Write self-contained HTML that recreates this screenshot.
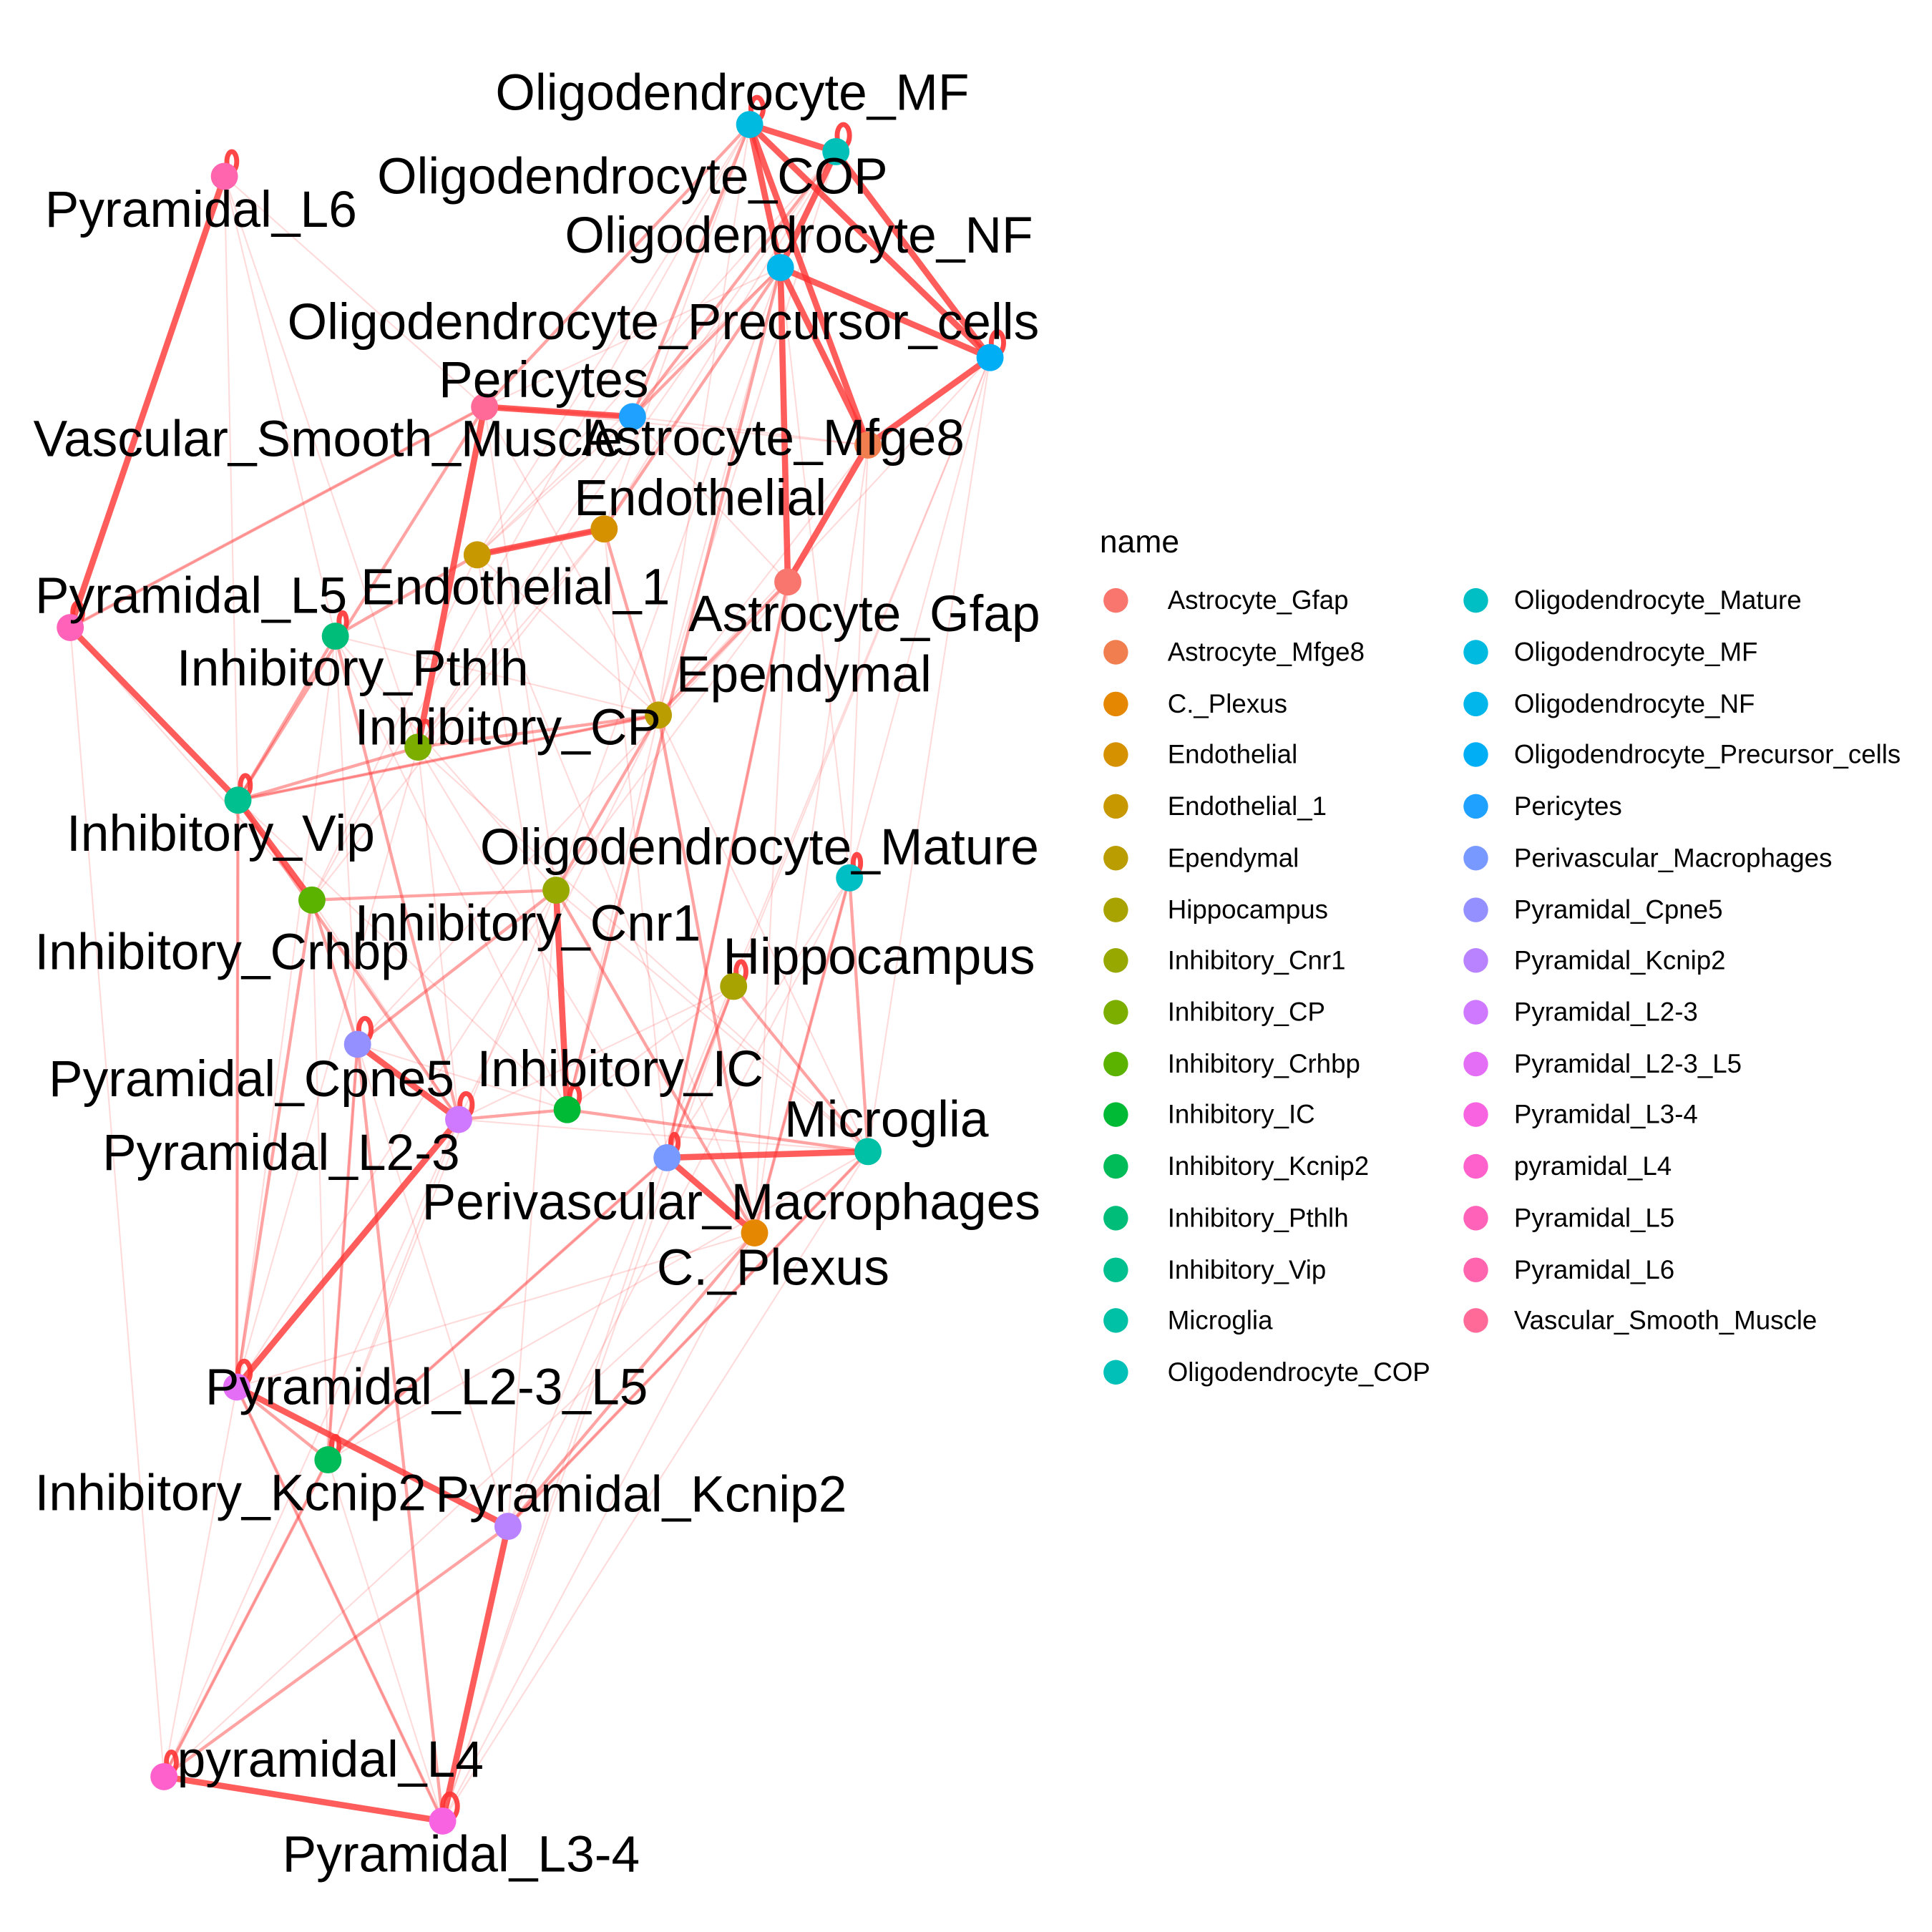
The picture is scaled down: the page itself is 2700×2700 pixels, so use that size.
<!DOCTYPE html>
<html><head><meta charset="utf-8"><style>html,body{margin:0;padding:0;background:#fff}svg{display:block}</style></head><body>
<svg width="2700" height="2700" viewBox="0 0 1567 1567" xmlns="http://www.w3.org/2000/svg" font-family="Liberation Sans, Arial, sans-serif">
<rect width="1567" height="1567" fill="#fff"/>
<g stroke="#FF3333" stroke-linecap="round" fill="none">
<g stroke-opacity="0.18" stroke-width="1.2">
<line x1="182" y1="143" x2="393" y2="330"/><line x1="182" y1="143" x2="272" y2="516"/><line x1="182" y1="143" x2="339" y2="606"/><line x1="182" y1="143" x2="193" y2="649"/>
<line x1="57" y1="509" x2="393" y2="330"/><line x1="57" y1="509" x2="133" y2="1441"/><line x1="57" y1="509" x2="253" y2="730"/>
<line x1="393" y1="330" x2="633" y2="217"/><line x1="393" y1="330" x2="704" y2="361"/><line x1="393" y1="330" x2="534" y2="580"/><line x1="393" y1="330" x2="451" y2="722"/>
<line x1="513" y1="338" x2="639" y2="472"/><line x1="513" y1="338" x2="387" y2="450"/><line x1="513" y1="338" x2="704" y2="361"/><line x1="513" y1="338" x2="339" y2="606"/>
<line x1="803" y1="290" x2="689" y2="712"/><line x1="803" y1="290" x2="595" y2="800"/><line x1="803" y1="290" x2="534" y2="580"/><line x1="803" y1="290" x2="704" y2="934"/><line x1="803" y1="290" x2="412" y2="1238"/>
<line x1="608" y1="101" x2="387" y2="450"/><line x1="608" y1="101" x2="534" y2="580"/><line x1="608" y1="101" x2="490" y2="429"/><line x1="608" y1="101" x2="253" y2="730"/>
<line x1="678" y1="123" x2="490" y2="429"/><line x1="678" y1="123" x2="534" y2="580"/><line x1="678" y1="123" x2="387" y2="450"/><line x1="678" y1="123" x2="339" y2="606"/>
<line x1="633" y1="217" x2="534" y2="580"/><line x1="633" y1="217" x2="451" y2="722"/><line x1="633" y1="217" x2="689" y2="712"/><line x1="633" y1="217" x2="387" y2="450"/>
<line x1="704" y1="361" x2="534" y2="580"/><line x1="704" y1="361" x2="689" y2="712"/><line x1="704" y1="361" x2="612" y2="1000"/>
<line x1="639" y1="472" x2="541" y2="939"/><line x1="639" y1="472" x2="451" y2="722"/><line x1="639" y1="472" x2="612" y2="1000"/><line x1="639" y1="472" x2="290" y2="847"/>
<line x1="534" y1="580" x2="272" y2="516"/><line x1="534" y1="580" x2="193" y2="649"/><line x1="534" y1="580" x2="704" y2="934"/><line x1="534" y1="580" x2="460" y2="900"/><line x1="534" y1="580" x2="372" y2="908"/>
<line x1="387" y1="450" x2="612" y2="1000"/><line x1="387" y1="450" x2="460" y2="900"/><line x1="387" y1="450" x2="253" y2="730"/><line x1="387" y1="450" x2="534" y2="580"/>
<line x1="490" y1="429" x2="339" y2="606"/><line x1="490" y1="429" x2="541" y2="939"/><line x1="490" y1="429" x2="253" y2="730"/>
<line x1="272" y1="516" x2="460" y2="900"/><line x1="272" y1="516" x2="192" y2="1125"/><line x1="272" y1="516" x2="290" y2="847"/><line x1="272" y1="516" x2="451" y2="722"/>
<line x1="339" y1="606" x2="192" y2="1125"/><line x1="339" y1="606" x2="372" y2="908"/><line x1="339" y1="606" x2="704" y2="934"/><line x1="339" y1="606" x2="541" y2="939"/>
<line x1="193" y1="649" x2="192" y2="1125"/><line x1="193" y1="649" x2="460" y2="900"/><line x1="193" y1="649" x2="534" y2="580"/>
<line x1="451" y1="722" x2="192" y2="1125"/><line x1="451" y1="722" x2="704" y2="934"/><line x1="451" y1="722" x2="412" y2="1238"/><line x1="451" y1="722" x2="266" y2="1184"/>
<line x1="595" y1="800" x2="460" y2="900"/><line x1="595" y1="800" x2="541" y2="939"/><line x1="595" y1="800" x2="372" y2="908"/><line x1="595" y1="800" x2="359" y2="1477"/>
<line x1="689" y1="712" x2="541" y2="939"/><line x1="689" y1="712" x2="612" y2="1000"/><line x1="689" y1="712" x2="412" y2="1238"/>
<line x1="704" y1="934" x2="412" y2="1238"/><line x1="704" y1="934" x2="266" y2="1184"/><line x1="704" y1="934" x2="359" y2="1477"/>
<line x1="612" y1="1000" x2="192" y2="1125"/><line x1="612" y1="1000" x2="359" y2="1477"/><line x1="612" y1="1000" x2="133" y2="1441"/>
<line x1="541" y1="939" x2="266" y2="1184"/><line x1="541" y1="939" x2="359" y2="1477"/>
<line x1="290" y1="847" x2="266" y2="1184"/><line x1="290" y1="847" x2="460" y2="900"/><line x1="290" y1="847" x2="412" y2="1238"/>
<line x1="372" y1="908" x2="266" y2="1184"/><line x1="372" y1="908" x2="704" y2="934"/><line x1="372" y1="908" x2="133" y2="1441"/>
<line x1="192" y1="1125" x2="133" y2="1441"/><line x1="192" y1="1125" x2="359" y2="1477"/><line x1="266" y1="1184" x2="133" y2="1441"/><line x1="266" y1="1184" x2="359" y2="1477"/>
<line x1="253" y1="730" x2="372" y2="908"/><line x1="253" y1="730" x2="266" y2="1184"/>
</g>
<g stroke-opacity="0.45" stroke-width="2.5">
<line x1="393" y1="330" x2="513" y2="338"/><line x1="393" y1="330" x2="193" y2="649"/><line x1="393" y1="330" x2="57" y2="509"/>
<line x1="608" y1="101" x2="513" y2="338"/><line x1="608" y1="101" x2="393" y2="330"/><line x1="633" y1="217" x2="513" y2="338"/><line x1="678" y1="123" x2="513" y2="338"/>
<line x1="387" y1="450" x2="490" y2="429"/><line x1="387" y1="450" x2="272" y2="516"/><line x1="490" y1="429" x2="534" y2="580"/><line x1="490" y1="429" x2="633" y2="217"/>
<line x1="534" y1="580" x2="339" y2="606"/><line x1="534" y1="580" x2="193" y2="649"/><line x1="534" y1="580" x2="451" y2="722"/><line x1="534" y1="580" x2="612" y2="1000"/>
<line x1="639" y1="472" x2="534" y2="580"/><line x1="639" y1="472" x2="541" y2="939"/>
<line x1="193" y1="649" x2="339" y2="606"/><line x1="272" y1="516" x2="193" y2="649"/><line x1="272" y1="516" x2="372" y2="908"/>
<line x1="253" y1="730" x2="451" y2="722"/><line x1="253" y1="730" x2="290" y2="847"/><line x1="253" y1="730" x2="192" y2="1125"/>
<line x1="193" y1="649" x2="192" y2="1125"/><line x1="193" y1="649" x2="372" y2="908"/>
<line x1="451" y1="722" x2="290" y2="847"/><line x1="451" y1="722" x2="612" y2="1000"/><line x1="372" y1="908" x2="460" y2="900"/>
<line x1="460" y1="900" x2="704" y2="934"/><line x1="689" y1="712" x2="704" y2="934"/><line x1="689" y1="712" x2="612" y2="1000"/>
<line x1="595" y1="800" x2="704" y2="934"/><line x1="595" y1="800" x2="541" y2="939"/>
<line x1="290" y1="847" x2="266" y2="1184"/><line x1="290" y1="847" x2="359" y2="1477"/><line x1="541" y1="939" x2="266" y2="1184"/>
<line x1="704" y1="934" x2="412" y2="1238"/><line x1="612" y1="1000" x2="412" y2="1238"/>
<line x1="192" y1="1125" x2="266" y2="1184"/><line x1="192" y1="1125" x2="359" y2="1477"/><line x1="266" y1="1184" x2="133" y2="1441"/>
<line x1="412" y1="1238" x2="133" y2="1441"/><line x1="633" y1="217" x2="460" y2="900"/>
</g>
<g stroke-opacity="0.8" stroke-width="5">
<line x1="608" y1="101" x2="678" y2="123"/><line x1="608" y1="101" x2="633" y2="217"/><line x1="608" y1="101" x2="803" y2="290"/><line x1="678" y1="123" x2="803" y2="290"/>
<line x1="633" y1="217" x2="803" y2="290"/><line x1="633" y1="217" x2="704" y2="361"/><line x1="608" y1="101" x2="704" y2="361"/><line x1="633" y1="217" x2="639" y2="472"/>
<line x1="704" y1="361" x2="639" y2="472"/><line x1="704" y1="361" x2="803" y2="290"/><line x1="678" y1="123" x2="633" y2="217"/>
<line x1="182" y1="143" x2="57" y2="509"/><line x1="393" y1="330" x2="339" y2="606"/><line x1="57" y1="509" x2="193" y2="649"/>
<line x1="193" y1="649" x2="253" y2="730"/><line x1="451" y1="722" x2="460" y2="900"/><line x1="290" y1="847" x2="372" y2="908"/>
<line x1="192" y1="1125" x2="372" y2="908"/><line x1="192" y1="1125" x2="412" y2="1238"/><line x1="412" y1="1238" x2="359" y2="1477"/>
<line x1="133" y1="1441" x2="359" y2="1477"/><line x1="541" y1="939" x2="704" y2="934"/><line x1="541" y1="939" x2="612" y2="1000"/>
<line x1="490" y1="429" x2="387" y2="450"/><line x1="513" y1="338" x2="393" y2="330"/>
</g>
<g stroke-width="4" stroke-opacity="0.9">
<ellipse cx="614" cy="88" rx="5" ry="9"/><ellipse cx="684" cy="110" rx="5" ry="9"/><ellipse cx="809" cy="278" rx="5" ry="9"/>
<ellipse cx="188" cy="131" rx="4" ry="8"/><ellipse cx="63" cy="497" rx="4" ry="8"/><ellipse cx="278" cy="504" rx="3" ry="7"/>
<ellipse cx="345" cy="594" rx="5" ry="9"/><ellipse cx="199" cy="637" rx="4" ry="8"/><ellipse cx="296" cy="835" rx="5" ry="9"/>
<ellipse cx="378" cy="896" rx="5" ry="9"/><ellipse cx="466" cy="889" rx="4" ry="8"/><ellipse cx="198" cy="1113" rx="5" ry="9"/>
<ellipse cx="365" cy="1465" rx="6" ry="10"/><ellipse cx="139" cy="1429" rx="4" ry="8"/><ellipse cx="601" cy="788" rx="4" ry="8"/>
<ellipse cx="695" cy="700" rx="3" ry="7"/><ellipse cx="547" cy="927" rx="3" ry="7"/><ellipse cx="272" cy="1172" rx="3" ry="7"/>
</g>
</g>
<g stroke="none">
<circle cx="608" cy="101" r="11" fill="#00BAE0"/><circle cx="678" cy="123" r="11" fill="#00C0B8"/><circle cx="633" cy="217" r="11" fill="#00B6EB"/>
<circle cx="803" cy="290" r="11" fill="#00AEF6"/><circle cx="513" cy="338" r="11" fill="#1FA2FF"/><circle cx="393" cy="330" r="11" fill="#FF6A98"/>
<circle cx="182" cy="143" r="11" fill="#FF64AE"/><circle cx="704" cy="361" r="11" fill="#F07E4F"/><circle cx="490" cy="429" r="11" fill="#D59100"/>
<circle cx="387" cy="450" r="11" fill="#C79800"/><circle cx="639" cy="472" r="11" fill="#F8766D"/><circle cx="57" cy="509" r="11" fill="#FF62B9"/>
<circle cx="272" cy="516" r="11" fill="#00BE7A"/><circle cx="534" cy="580" r="11" fill="#BA9D00"/><circle cx="339" cy="606" r="11" fill="#7CAE00"/>
<circle cx="193" cy="649" r="11" fill="#00C08F"/><circle cx="689" cy="712" r="11" fill="#00BFC4"/><circle cx="253" cy="730" r="11" fill="#5BB300"/>
<circle cx="451" cy="722" r="11" fill="#97A900"/><circle cx="595" cy="800" r="11" fill="#A8A300"/><circle cx="290" cy="847" r="11" fill="#9590FF"/>
<circle cx="372" cy="908" r="11" fill="#CE79FF"/><circle cx="460" cy="900" r="11" fill="#00B934"/><circle cx="541" cy="939" r="11" fill="#7899FF"/>
<circle cx="704" cy="934" r="11" fill="#00C0A6"/><circle cx="612" cy="1000" r="11" fill="#E58700"/><circle cx="192" cy="1125" r="11" fill="#E46EF6"/>
<circle cx="266" cy="1184" r="11" fill="#00BC58"/><circle cx="412" cy="1238" r="11" fill="#B983FF"/><circle cx="133" cy="1441" r="11" fill="#FF61CC"/>
<circle cx="359" cy="1477" r="11" fill="#F763E0"/>
</g>
<g font-size="41.4" fill="#000" text-anchor="middle">
<text x="594" y="89">Oligodendrocyte_MF</text>
<text x="513" y="157">Oligodendrocyte_COP</text>
<text x="648" y="205">Oligodendrocyte_NF</text>
<text x="538" y="275">Oligodendrocyte_Precursor_cells</text>
<text x="163" y="184">Pyramidal_L6</text>
<text x="441" y="322">Pericytes</text>
<text x="266" y="370">Vascular_Smooth_Muscle</text>
<text x="627" y="369">Astrocyte_Mfge8</text>
<text x="568" y="418">Endothelial</text>
<text x="418" y="490">Endothelial_1</text>
<text x="701" y="512">Astrocyte_Gfap</text>
<text x="155" y="497">Pyramidal_L5</text>
<text x="286" y="556">Inhibitory_Pthlh</text>
<text x="652" y="561">Ependymal</text>
<text x="412" y="604">Inhibitory_CP</text>
<text x="179" y="690">Inhibitory_Vip</text>
<text x="616" y="701">Oligodendrocyte_Mature</text>
<text x="180" y="786">Inhibitory_Crhbp</text>
<text x="428" y="763">Inhibitory_Cnr1</text>
<text x="713" y="790">Hippocampus</text>
<text x="204" y="889">Pyramidal_Cpne5</text>
<text x="228" y="949">Pyramidal_L2-3</text>
<text x="503" y="881">Inhibitory_IC</text>
<text x="719" y="922">Microglia</text>
<text x="593" y="989">Perivascular_Macrophages</text>
<text x="627" y="1042">C._Plexus</text>
<text x="346" y="1139">Pyramidal_L2-3_L5</text>
<text x="187" y="1225">Inhibitory_Kcnip2</text>
<text x="520" y="1226">Pyramidal_Kcnip2</text>
<text x="268" y="1441">pyramidal_L4</text>
<text x="374" y="1518">Pyramidal_L3-4</text>
</g>
<text x="892" y="448" font-size="25.8">name</text>
<g font-size="21.3">
<g><circle cx="905" cy="487" r="10" fill="#F8766D"/><text x="947" y="494">Astrocyte_Gfap</text>
<circle cx="905" cy="529" r="10" fill="#F07E4F"/><text x="947" y="536">Astrocyte_Mfge8</text>
<circle cx="905" cy="571" r="10" fill="#E58700"/><text x="947" y="578">C._Plexus</text>
<circle cx="905" cy="612" r="10" fill="#D59100"/><text x="947" y="619">Endothelial</text>
<circle cx="905" cy="654" r="10" fill="#C79800"/><text x="947" y="661">Endothelial_1</text>
<circle cx="905" cy="696" r="10" fill="#BA9D00"/><text x="947" y="703">Ependymal</text>
<circle cx="905" cy="738" r="10" fill="#A8A300"/><text x="947" y="745">Hippocampus</text>
<circle cx="905" cy="779" r="10" fill="#97A900"/><text x="947" y="786">Inhibitory_Cnr1</text>
<circle cx="905" cy="821" r="10" fill="#7CAE00"/><text x="947" y="828">Inhibitory_CP</text>
<circle cx="905" cy="863" r="10" fill="#5BB300"/><text x="947" y="870">Inhibitory_Crhbp</text>
<circle cx="905" cy="904" r="10" fill="#00B934"/><text x="947" y="911">Inhibitory_IC</text>
<circle cx="905" cy="946" r="10" fill="#00BC58"/><text x="947" y="953">Inhibitory_Kcnip2</text>
<circle cx="905" cy="988" r="10" fill="#00BE7A"/><text x="947" y="995">Inhibitory_Pthlh</text>
<circle cx="905" cy="1030" r="10" fill="#00C08F"/><text x="947" y="1037">Inhibitory_Vip</text>
<circle cx="905" cy="1071" r="10" fill="#00C0A6"/><text x="947" y="1078">Microglia</text>
<circle cx="905" cy="1113" r="10" fill="#00C0B8"/><text x="947" y="1120">Oligodendrocyte_COP</text></g>
<g><circle cx="1197" cy="487" r="10" fill="#00BFC4"/><text x="1228" y="494">Oligodendrocyte_Mature</text>
<circle cx="1197" cy="529" r="10" fill="#00BAE0"/><text x="1228" y="536">Oligodendrocyte_MF</text>
<circle cx="1197" cy="571" r="10" fill="#00B6EB"/><text x="1228" y="578">Oligodendrocyte_NF</text>
<circle cx="1197" cy="612" r="10" fill="#00AEF6"/><text x="1228" y="619">Oligodendrocyte_Precursor_cells</text>
<circle cx="1197" cy="654" r="10" fill="#1FA2FF"/><text x="1228" y="661">Pericytes</text>
<circle cx="1197" cy="696" r="10" fill="#7899FF"/><text x="1228" y="703">Perivascular_Macrophages</text>
<circle cx="1197" cy="738" r="10" fill="#9590FF"/><text x="1228" y="745">Pyramidal_Cpne5</text>
<circle cx="1197" cy="779" r="10" fill="#B983FF"/><text x="1228" y="786">Pyramidal_Kcnip2</text>
<circle cx="1197" cy="821" r="10" fill="#CE79FF"/><text x="1228" y="828">Pyramidal_L2-3</text>
<circle cx="1197" cy="863" r="10" fill="#E46EF6"/><text x="1228" y="870">Pyramidal_L2-3_L5</text>
<circle cx="1197" cy="904" r="10" fill="#F763E0"/><text x="1228" y="911">Pyramidal_L3-4</text>
<circle cx="1197" cy="946" r="10" fill="#FF61CC"/><text x="1228" y="953">pyramidal_L4</text>
<circle cx="1197" cy="988" r="10" fill="#FF62B9"/><text x="1228" y="995">Pyramidal_L5</text>
<circle cx="1197" cy="1030" r="10" fill="#FF64AE"/><text x="1228" y="1037">Pyramidal_L6</text>
<circle cx="1197" cy="1071" r="10" fill="#FF6A98"/><text x="1228" y="1078">Vascular_Smooth_Muscle</text></g>
</g>
</svg>
</body></html>
